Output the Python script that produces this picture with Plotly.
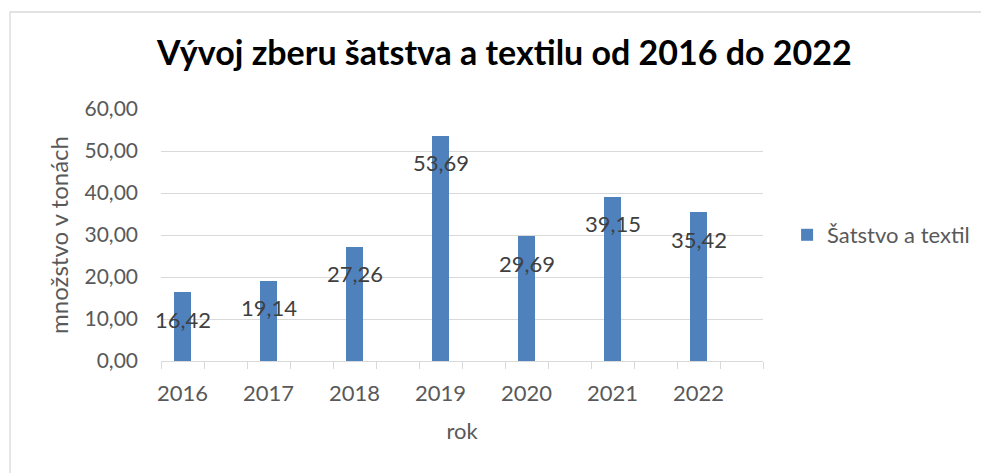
import plotly.graph_objects as go

years = [2016, 2017, 2018, 2019, 2020, 2021, 2022]
values = [16.42, 19.14, 27.26, 53.69, 29.69, 39.15, 35.42]
series_name = "Šatstvo a textil"
y_ticks = [0, 10, 20, 30, 40, 50, 60]

FONT = "Lato, Carlito, Calibri, sans-serif"
GRAY_TXT = "#595959"
LABEL_TXT = "#404040"
GRID = "#d9d9d9"

fig = go.Figure()
fig.add_trace(go.Bar(
    x=years, y=values, name=series_name,
    marker=dict(color="#4F81BD", line=dict(width=0)),
    width=0.205,
))

for xv, yv in zip(years, values):
    fig.add_annotation(
        x=xv, y=yv, text=f"{yv:.2f}".replace(".", ","),
        showarrow=False, yanchor="middle", yshift=-27,
        font=dict(family=FONT, size=22, color=LABEL_TXT),
    )

# chart border
fig.add_shape(type="rect", xref="paper", yref="paper",
              x0=-0.2508, x1=2, y0=-2, y1=1.385,
              line=dict(color=GRID, width=1.3), fillcolor="rgba(0,0,0,0)", layer="below")

fig.update_layout(
    width=981, height=465,
    margin=dict(l=153, r=226, t=101, b=112, autoexpand=False),
    paper_bgcolor="white", plot_bgcolor="white",
    separators=",.",
    font=dict(family=FONT, color=GRAY_TXT),
    title=dict(text="<b>Vývoj zberu šatstva a textilu od 2016 do 2022</b>",
               x=0.506, xanchor="center", y=0.903, yanchor="middle",
               font=dict(family=FONT, size=34, color="black")),
    showlegend=True,
    legend=dict(x=1.04, y=0.5, xanchor="left", yanchor="middle",
                font=dict(family=FONT, size=22, color=GRAY_TXT)),
    bargap=0,
)

fig.update_xaxes(
    range=[2015.75, 2022.75], automargin=False,
    tickmode="array", tickvals=years, ticktext=[str(y) for y in years],
    ticks="", showgrid=False, ticklabelstandoff=12,
    showline=True, linecolor=GRID, linewidth=1.3,
    tickfont=dict(family=FONT, size=22, color=GRAY_TXT),
    minor=dict(ticks="outside", tick0=2015.75, dtick=0.5, ticklen=7,
               tickcolor=GRID, tickwidth=1.3, showgrid=False),
    title=dict(text="rok", standoff=19, font=dict(family=FONT, size=22, color=GRAY_TXT)),
    zeroline=False,
)

fig.update_yaxes(
    range=[0, 60], tickvals=y_ticks, tickformat=".2f", automargin=False,
    showgrid=True, gridcolor=GRID, gridwidth=1.3,
    zeroline=False, showline=False, ticks="",
    ticklabelstandoff=22,
    tickfont=dict(family=FONT, size=21, color=GRAY_TXT),
    title=dict(text="množstvo v tonách", standoff=9, font=dict(family=FONT, size=24, color=GRAY_TXT)),
)

fig.write_html("out.html")
